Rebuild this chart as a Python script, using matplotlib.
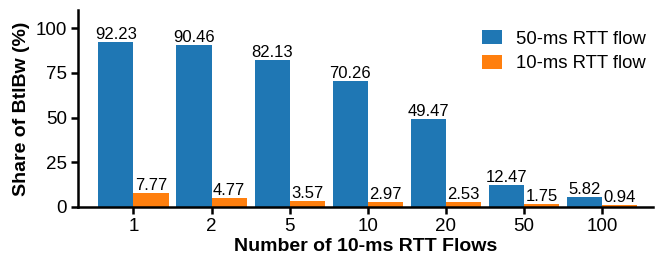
import numpy as np
import matplotlib
matplotlib.use("Agg")
import matplotlib.pyplot as plt

plt.rcParams['font.family'] = ['Liberation Sans', 'DejaVu Sans']

# Data
flows = ["1", "2", "5", "10", "20", "50", "100"]
share_50ms = [92.23, 90.46, 82.13, 70.26, 49.47, 12.47, 5.82]
share_10ms = [7.77, 4.77, 3.57, 2.97, 2.53, 1.75, 0.94]

x = np.arange(len(flows))
w = 0.45

fig, ax = plt.subplots(figsize=(6.56, 2.61), dpi=100)
fig.subplots_adjust(left=0.119, right=0.995, top=0.96, bottom=0.207)

b1 = ax.bar(x - w / 2, share_50ms, w, color="#1f77b4", label="50-ms RTT flow")
b2 = ax.bar(x + w / 2, share_10ms, w, color="#ff7f0e", label="10-ms RTT flow")
ax.bar_label(b1, labels=[f"{v:.2f}" for v in share_50ms], fontsize=12, padding=0)
ax.bar_label(b2, labels=[f"{v:.2f}" for v in share_10ms], fontsize=12, padding=0)

ax.set_xticks(x)
ax.set_xticklabels(flows)
ax.set_yticks([0, 25, 50, 75, 100])
ax.set_xlim(-0.71, 6.65)
ax.set_ylim(0, 110)
ax.tick_params(labelsize=13.5, width=1.8, length=5, pad=3)

ax.set_xlabel("Number of 10-ms RTT Flows", fontsize=14, fontweight="bold", labelpad=2)
ax.set_ylabel("Share of BtlBw (%)", fontsize=14, fontweight="bold", labelpad=4)

for s in ["top", "right"]:
    ax.spines[s].set_visible(False)
for s in ["left", "bottom"]:
    ax.spines[s].set_linewidth(1.8)

ax.legend(frameon=False, fontsize=13.3, loc="upper right", bbox_to_anchor=(1.008, 0.955),
          handlelength=1.05, handleheight=0.8, borderaxespad=0.2, labelspacing=0.38,
          handletextpad=0.8)

fig.savefig("out.png", dpi=100)
